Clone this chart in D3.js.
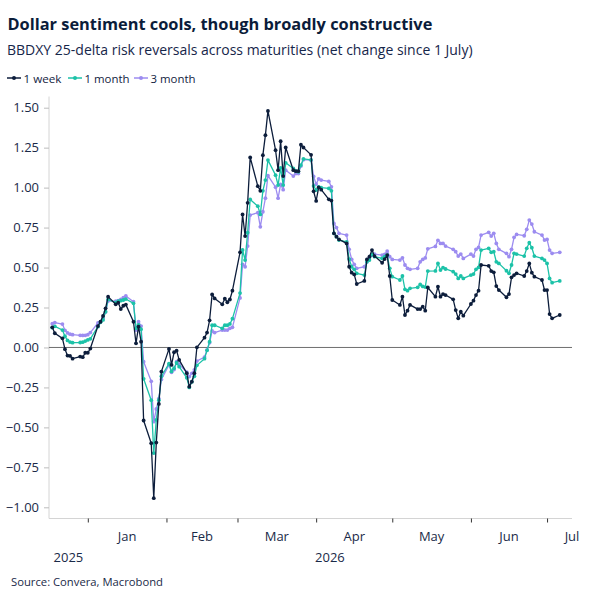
<!DOCTYPE html>
<html>
<head>
<meta charset="utf-8">
<script src="https://cdn.jsdelivr.net/npm/d3@7"></script>
<style>
  html, body { margin: 0; padding: 0; background: #fff; }
  svg { display: block; }
  text { font-family: "Open Sans", "Noto Sans", sans-serif; fill: #13233f; }
</style>
</head>
<body>
<svg id="chart" width="600" height="600"></svg>
<script>
// ---- Data ----
const startDate = "2025-12-18";   // first observation (business days)
const endDate = "2026-07-06";     // last observation

const seriesNames = ["1 week", "1 month", "3 month"];
const seriesColors = ["#0c1d3b", "#1cc2a8", "#9c8cf0"];

const week1 = [
  0.126, 0.089, 0.057, -0.011, -0.051, -0.053, -0.070, -0.057, -0.061, -0.033,
  -0.033, -0.007, 0.134, 0.161, 0.197, 0.245, 0.318, 0.270, 0.280, 0.240,
  0.261, 0.268, 0.161, 0.026, 0.130, 0.036, -0.457, -0.599, -0.943, -0.595,
  -0.353, -0.151, -0.009, -0.109, -0.030, -0.020, -0.078, -0.161, -0.245, -0.214,
  -0.161, 0.001, 0.061, 0.093, 0.170, 0.332, 0.307, 0.270, 0.305, 0.283,
  0.300, 0.355, 0.595, 0.832, 0.697, 0.905, 1.189, 1.009, 0.980, 1.203,
  1.328, 1.480, 1.234, 1.109, 1.290, 1.072, 1.251, 1.109, 1.103, 1.103,
  1.268, 1.251, 1.205, 0.977, 0.917, 1.002, 0.987, 0.927, 0.919, 0.714,
  0.693, 0.676, 0.651, 0.505, 0.468, 0.457, 0.397, 0.416, 0.551, 0.568,
  0.609, 0.572, 0.530, 0.553, 0.578, 0.447, 0.297, 0.266, 0.318, 0.203,
  0.230, 0.266, 0.240, 0.240, 0.255, 0.230, 0.375, 0.318, 0.380, 0.318,
  0.334, 0.328, 0.301, 0.234, 0.182, 0.224, 0.199, 0.272, 0.293, 0.328,
  0.355, 0.516, 0.511, 0.478, 0.470, 0.384, 0.359, 0.314, 0.334, 0.439,
  0.453, 0.464, 0.447, 0.478, 0.526, 0.468, 0.443, 0.422, 0.359, 0.359,
  0.209, 0.182, 0.203
];

const month1 = [
  0.124, 0.132, 0.109, 0.070, 0.044, 0.034, 0.030, 0.031, 0.033, 0.040,
  0.047, 0.054, 0.130, 0.157, 0.172, 0.224, 0.301, 0.280, 0.290, 0.293,
  0.297, 0.303, 0.276, 0.120, 0.141, 0.114, -0.196, -0.330, -0.661, -0.453,
  -0.330, -0.180, -0.101, -0.150, -0.130, -0.095, -0.120, -0.190, -0.250, -0.215,
  -0.180, -0.112, -0.070, -0.018, 0.036, 0.139, 0.139, 0.120, 0.139, 0.139,
  0.147, 0.180, 0.340, 0.610, 0.547, 0.718, 0.926, 0.884, 0.832, 0.980,
  1.047, 1.172, 1.078, 1.016, 1.124, 1.016, 1.155, 1.120, 1.103, 1.099,
  1.141, 1.180, 1.174, 1.010, 0.985, 1.005, 1.000, 0.995, 0.980, 0.714,
  0.693, 0.672, 0.661, 0.553, 0.505, 0.489, 0.464, 0.453, 0.536, 0.547,
  0.584, 0.568, 0.557, 0.568, 0.578, 0.495, 0.443, 0.422, 0.447, 0.364,
  0.355, 0.370, 0.376, 0.394, 0.382, 0.378, 0.478, 0.479, 0.526, 0.484,
  0.499, 0.491, 0.474, 0.459, 0.432, 0.447, 0.432, 0.453, 0.459, 0.489,
  0.501, 0.609, 0.620, 0.595, 0.599, 0.536, 0.526, 0.480, 0.464, 0.516,
  0.589, 0.584, 0.572, 0.620, 0.655, 0.624, 0.572, 0.557, 0.547, 0.526,
  0.432, 0.405, 0.416
];

const month3 = [
  0.149, 0.156, 0.146, 0.107, 0.091, 0.083, 0.080, 0.076, 0.075, 0.076,
  0.080, 0.093, 0.153, 0.161, 0.182, 0.222, 0.290, 0.290, 0.293, 0.301,
  0.311, 0.322, 0.286, 0.109, 0.161, 0.134, -0.089, -0.212, -0.464, -0.385,
  -0.320, -0.200, -0.109, -0.155, -0.138, -0.089, -0.105, -0.155, -0.182, -0.162,
  -0.140, -0.085, -0.060, -0.016, 0.030, 0.103, 0.093, 0.109, 0.109, 0.109,
  0.120, 0.126, 0.310, 0.520, 0.505, 0.634, 0.828, 0.843, 0.755, 0.849,
  0.934, 1.075, 1.003, 0.934, 1.020, 0.987, 1.109, 1.072, 1.088, 1.088,
  1.135, 1.175, 1.172, 1.070, 1.022, 1.055, 1.047, 1.039, 1.005, 0.776,
  0.750, 0.714, 0.703, 0.614, 0.551, 0.520, 0.495, 0.505, 0.536, 0.561,
  0.578, 0.584, 0.578, 0.582, 0.603, 0.568, 0.551, 0.547, 0.561, 0.516,
  0.495, 0.489, 0.495, 0.536, 0.551, 0.560, 0.617, 0.632, 0.670, 0.651,
  0.651, 0.634, 0.614, 0.599, 0.572, 0.584, 0.557, 0.584, 0.572, 0.614,
  0.626, 0.703, 0.720, 0.697, 0.714, 0.651, 0.614, 0.589, 0.568, 0.614,
  0.689, 0.707, 0.699, 0.739, 0.797, 0.772, 0.724, 0.703, 0.672, 0.676,
  0.609, 0.589, 0.595
];

const yTickValues = [-1.00, -0.75, -0.50, -0.25, 0.00, 0.25, 0.50, 0.75, 1.00, 1.25, 1.50];
const titleText = "Dollar sentiment cools, though broadly constructive";
const subtitleText = "BBDXY 25-delta risk reversals across maturities (net change since 1 July)";
const sourceText = "Source: Convera, Macrobond";

// ---- Build dates: business days ----
const parse = d3.timeParse("%Y-%m-%d");
const dates = d3.timeDay.range(parse(startDate), d3.timeDay.offset(parse(endDate), 1))
  .filter(d => d.getDay() !== 0 && d.getDay() !== 6);

const allSeries = [week1, month1, month3].map((vals, i) => ({
  name: seriesNames[i], color: seriesColors[i],
  points: vals.map((v, j) => ({ date: dates[j], value: v }))
}));

// ---- Layout ----
const svg = d3.select("#chart");
const plotL = 49, plotR = 572, plotT = 96.5, plotB = 518.5;

const xDomain = [new Date(2025, 11, 16, 17), new Date(2026, 6, 10, 20)];
const x = d3.scaleTime().domain(xDomain).range([plotL, plotR]);
const y = d3.scaleLinear().domain([-1.07, 1.57]).range([plotB, plotT]);

function fit(sel, w) {
  const n = sel.node();
  const fs = parseFloat(sel.attr("font-size"));
  const len = n.getComputedTextLength();
  if (len > 0) sel.attr("font-size", (fs * w / len).toFixed(2));
}
const title = svg.append("text").attr("x", 7.5).attr("y", 29.5)
  .attr("font-size", 20).attr("font-weight", 700).style("fill", "#0b1c3a").text(titleText);
fit(title, 425);
const subtitle = svg.append("text").attr("x", 7).attr("y", 54.5)
  .attr("font-size", 16).style("fill", "#16264a").text(subtitleText);
fit(subtitle, 466);

// Legend
const legendX = [7, 68, 134];
const legendW = [38, 45, 45];
const legend = svg.append("g");
allSeries.forEach((s, i) => {
  const g = legend.append("g").attr("transform", `translate(${legendX[i]},78)`);
  g.append("line").attr("x1", 0).attr("x2", 14).attr("y1", 0).attr("y2", 0)
    .attr("stroke", s.color).attr("stroke-width", 1.5);
  g.append("circle").attr("cx", 7).attr("cy", 0).attr("r", 2).attr("fill", s.color);
  const t = g.append("text").attr("x", 16.5).attr("y", 4.5).attr("font-size", 13).text(s.name);
  fit(t, legendW[i]);
});

// Axes
svg.append("line").attr("x1", plotL).attr("x2", plotL).attr("y1", plotT).attr("y2", plotB)
  .attr("stroke", "#d4d4d4").attr("stroke-width", 1);
svg.append("line").attr("x1", plotL).attr("x2", plotR).attr("y1", plotB).attr("y2", plotB)
  .attr("stroke", "#d4d4d4").attr("stroke-width", 1);

const yAxis = svg.append("g").attr("transform", `translate(${plotL},0)`)
  .call(d3.axisLeft(y).tickValues(yTickValues).tickFormat(d3.format(".2f")).tickSize(5).tickPadding(5));
yAxis.select(".domain").remove();
yAxis.selectAll(".tick line").attr("stroke", "#bdbdbd");
yAxis.selectAll(".tick text").attr("font-size", 13).style("font-family", "'Open Sans', sans-serif")
  .style("fill", "#1a2a48");

const months = d3.timeMonth.range(d3.timeMonth.ceil(xDomain[0]), xDomain[1]);
const xAxis = svg.append("g").attr("transform", `translate(0,${plotB})`)
  .call(d3.axisBottom(x).tickValues(months).tickFormat("").tickSize(4));
xAxis.select(".domain").remove();
xAxis.selectAll(".tick line").attr("stroke", "#333");

// Month labels centred on the visible month span
const monthStarts = d3.timeMonth.range(d3.timeMonth.floor(xDomain[0]), xDomain[1]);
monthStarts.forEach((m, i) => {
  const a = Math.max(+m, +xDomain[0]);
  const b = Math.min(+d3.timeMonth.offset(m, 1), +xDomain[1]);
  if (i === 0) return; // partial December has no label
  let cx = (x(a) + x(b)) / 2;
  if (i === monthStarts.length - 1) cx = x(xDomain[1]);
  svg.append("text").attr("x", cx).attr("y", 540.5).attr("text-anchor", "middle")
    .attr("font-size", 13).style("fill", "#1a2a48").text(d3.timeFormat("%b")(m));
});
// Year labels
[2025, 2026].forEach(yr => {
  const a = Math.max(+new Date(yr, 0, 1), +xDomain[0]);
  const b = Math.min(+new Date(yr + 1, 0, 1), +xDomain[1]);
  svg.append("text").attr("x", (x(a) + x(b)) / 2).attr("y", 561.5).attr("text-anchor", "middle")
    .attr("font-size", 13).style("fill", "#1a2a48").text(yr);
});

// Zero line
svg.append("line").attr("x1", plotL).attr("x2", plotR).attr("y1", y(0)).attr("y2", y(0))
  .attr("stroke", "#6e6e6e").attr("stroke-width", 1);

// Series (3 month at bottom, 1 week on top)
const line = d3.line().x(d => x(d.date)).y(d => y(d.value));
[2, 1, 0].forEach(i => {
  const s = allSeries[i];
  const g = svg.append("g");
  g.append("path").datum(s.points).attr("d", line).attr("fill", "none")
    .attr("stroke", s.color).attr("stroke-width", 1.3).attr("stroke-linejoin", "round");
  g.selectAll("circle").data(s.points).join("circle")
    .attr("cx", d => x(d.date)).attr("cy", d => y(d.value)).attr("r", 1.9).attr("fill", s.color);
});

// Source
const src = svg.append("text").attr("x", 11).attr("y", 585.5).attr("font-size", 12)
  .style("fill", "#1a2a48").text(sourceText);
fit(src, 152);
</script>
</body>
</html>
